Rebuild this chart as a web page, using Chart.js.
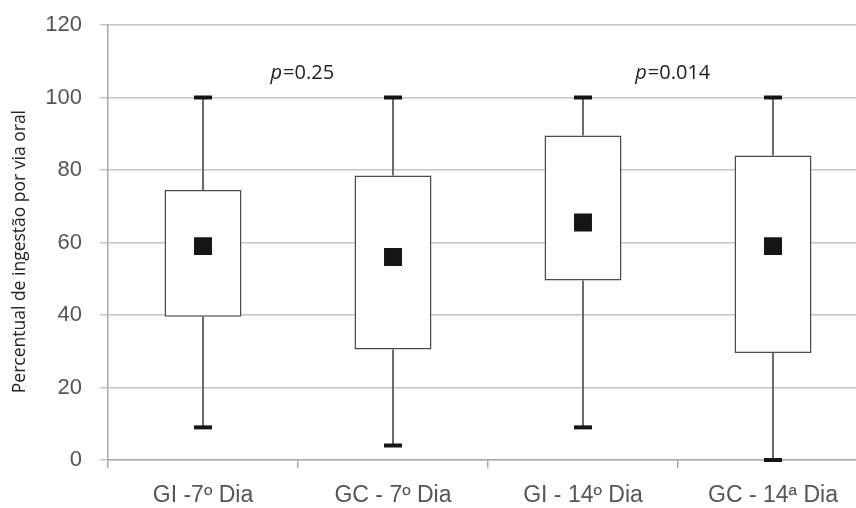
<!DOCTYPE html>
<html>
<head>
<meta charset="utf-8">
<script src="https://cdn.jsdelivr.net/npm/chart.js@4.4.0/dist/chart.umd.min.js"></script>
<style>
    html, body { margin: 0; padding: 0; background: #fff; overflow: hidden; }
    /* the plot runs past the right edge, so clip a wider canvas */
    #clip { position: relative; width: 856px; height: 508px; overflow: hidden; }
    #clip canvas { position: absolute; left: 0; top: 0; display: block; }
</style>
</head>
<body>
<div id="clip"><canvas id="chart" width="870" height="508"></canvas></div>
<script>
const labels = ['GI -7º Dia', 'GC - 7º Dia', 'GI - 14º Dia', 'GC - 14ª Dia'];
const mins = [9, 4, 9, 0];
const q1s = [39.5, 30.5, 49.5, 29.5];
const q3s = [74.5, 78.5, 89.5, 84];
const maxs = [100, 100, 100, 100];
const means = [59, 56, 65.5, 59];
const pValues = ['0.25', '0.014'];
const pXPos = [0.52, 2.47];
const pYPos = [106.8, 106.8];

// whiskers + caps, drawn under the boxes
const whiskerPlugin = {
    id: 'whiskers',
    beforeDatasetsDraw(chart) {
        const ctx = chart.ctx;
        const xs = chart.scales.x;
        const ys = chart.scales.y;
        ctx.save();
        for (let i = 0; i < labels.length; i++) {
            const x = xs.getPixelForValue(i);
            ctx.strokeStyle = '#6a6a6a';
            ctx.lineWidth = 2;
            ctx.beginPath();
            ctx.moveTo(x, ys.getPixelForValue(q3s[i]));
            ctx.lineTo(x, ys.getPixelForValue(maxs[i]));
            ctx.moveTo(x, ys.getPixelForValue(q1s[i]));
            ctx.lineTo(x, ys.getPixelForValue(mins[i]));
            ctx.stroke();
            ctx.fillStyle = '#151515';
            ctx.fillRect(x - 9, ys.getPixelForValue(maxs[i]) - 2, 18, 4);
            ctx.fillRect(x - 9, ys.getPixelForValue(mins[i]) - 2, 18, 4);
        }
        ctx.restore();
    }
};

// p-value notes
const pLabelPlugin = {
    id: 'pLabels',
    afterDraw(chart) {
        const ctx = chart.ctx;
        const xs = chart.scales.x;
        const ys = chart.scales.y;
        ctx.save();
        ctx.fillStyle = '#222';
        ctx.textBaseline = 'middle';
        ctx.textAlign = 'left';
        for (let i = 0; i < pValues.length; i++) {
            const cx = xs.getPixelForValue(pXPos[i]);
            const cy = ys.getPixelForValue(pYPos[i]);
            const italic = 'italic 20px "Open Sans"';
            const normal = '20px "Open Sans"';
            ctx.font = italic;
            const w1 = ctx.measureText('p').width;
            ctx.font = normal;
            const rest = '=' + pValues[i];
            const w2 = ctx.measureText(rest).width;
            let x = cx - (w1 + w2) / 2;
            ctx.font = italic;
            ctx.fillText('p', x, cy);
            ctx.font = normal;
            ctx.fillText(rest, x + w1 + 1, cy);
        }
        ctx.restore();
    }
};

new Chart(document.getElementById('chart'), {
    type: 'bar',
    data: {
        labels: labels,
        datasets: [{
            type: 'line',
            data: means,
            showLine: false,
            pointStyle: 'rect',
            pointRadius: 12.7,
            pointBackgroundColor: '#151515',
            pointBorderWidth: 0,
            order: 0
        }, {
            type: 'bar',
            data: q1s.map((v, i) => [v, q3s[i]]),
            backgroundColor: '#fff',
            borderColor: '#4a4a4a',
            borderWidth: 1.5,
            borderSkipped: false,
            barPercentage: 0.405,
            categoryPercentage: 1,
            order: 1
        }]
    },
    options: {
        responsive: false,
        animation: false,
        events: [],
        layout: { autoPadding: false, padding: { top: 25, right: 2, left: 0, bottom: 0 } },
        plugins: {
            legend: { display: false },
            tooltip: { enabled: false }
        },
        scales: {
            x: {
                offset: true,
                grid: { drawOnChartArea: false, offset: true, tickLength: 8, color: '#aaa', lineWidth: 1.5 },
                border: { color: '#aaa', width: 1.5 },
                ticks: { color: '#555', font: { family: '"Liberation Sans", Arial', size: 23 }, padding: 14 },
                afterFit: (s) => { s.height = 48; s.paddingLeft = 0; s.paddingRight = 0; }
            },
            y: {
                min: 0,
                max: 120,
                ticks: { stepSize: 20, color: '#555', font: { family: '"Liberation Sans", Arial', size: 22 }, padding: 18 },
                grid: { color: '#c4c4c4', lineWidth: 1.5, tickLength: 8 },
                border: { color: '#aaa', width: 1.5 },
                title: {
                    display: true,
                    // trailing spaces nudge the title a bit lower, as in the original
                    text: 'Percentual de ingestão por via oral    ',
                    color: '#222',
                    font: { family: '"Open Sans"', size: 17.5 },
                    padding: { top: 10, bottom: 0 }
                },
                afterFit: (s) => { s.width = 108; s.paddingTop = 0; s.paddingBottom = 0; }
            }
        }
    },
    plugins: [whiskerPlugin, pLabelPlugin]
});
</script>
</body>
</html>
